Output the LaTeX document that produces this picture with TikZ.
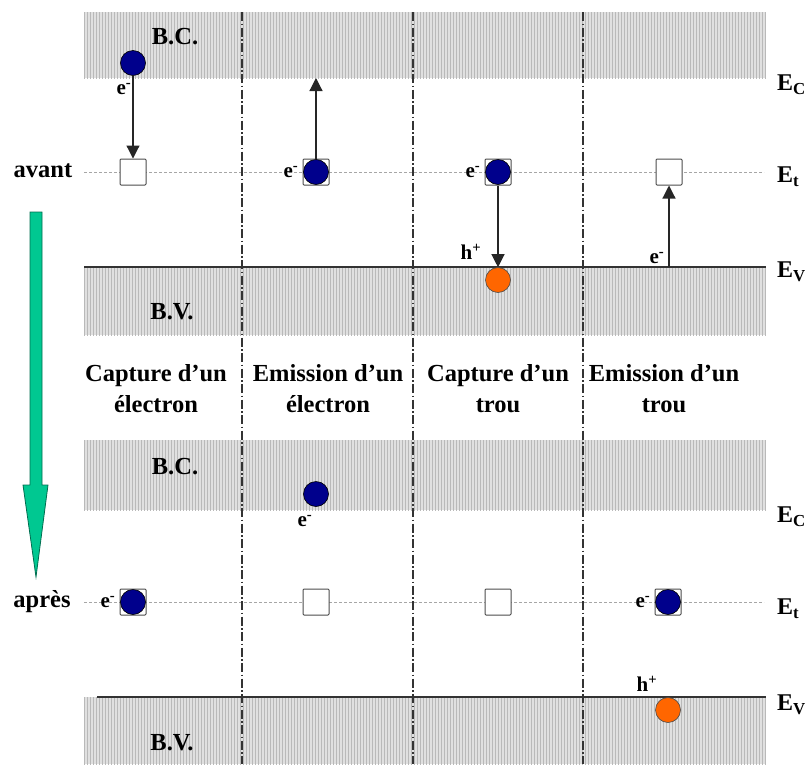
\documentclass[tikz,border=0pt]{standalone}
\usepackage{fontspec}
\setmainfont{Liberation Serif}
\usetikzlibrary{arrows.meta,patterns}
\definecolor{navyb}{RGB}{0,0,140}
\definecolor{orng}{RGB}{255,102,0}
\definecolor{teal2}{RGB}{0,200,145}
\definecolor{teal3}{RGB}{0,110,80}
\begin{document}
\begin{tikzpicture}[x=1pt,y=-1pt,
  font=\fontsize{24.5}{31}\selectfont\bfseries,
  bandfill/.style={fill=gray!24},
  bandpat/.style={pattern=vertical lines,pattern color=gray!55},
  sep/.style={draw=gray!40!black,line width=1.2pt,dash pattern=on 9pt off 2.5pt on 1.5pt off 2.5pt},
  etline/.style={draw=gray!70,line width=1pt,densely dashed},
  evline/.style={draw=gray!40!black,line width=1.6pt},
  elec/.style={circle,draw=black,line width=0.6pt,fill=navyb,minimum size=25pt,inner sep=0pt},
  hole/.style={circle,draw=black!70,line width=0.6pt,fill=orng,minimum size=25pt,inner sep=0pt},
  trap/.style={rectangle,draw=gray!60!black,line width=1pt,fill=white,minimum size=26pt,inner sep=0pt,rounded corners=1pt},
  arr/.style={draw=gray!30!black,line width=1.2pt,-{Triangle[width=13pt,length=13pt]}},
  small/.style={font=\fontsize{21}{24}\selectfont\bfseries,inner sep=1pt},
  elab/.style={font=\fontsize{24}{28}\selectfont\bfseries,anchor=west,inner sep=0pt},
  title/.style={align=center,inner sep=0pt}
]
\useasboundingbox (0,0) rectangle (809,764);

% bands
\foreach \ya/\yb in {12/78, 267/335, 440/510, 697/764}{
  \fill[bandfill] (84,\ya) rectangle (766,\yb);
  \fill[bandpat] (84,\ya) rectangle (766,\yb);
}

% energy lines
\draw[etline] (84,172) -- (764,172);
\draw[evline] (84,267) -- (766,267);
\draw[etline] (84,602) -- (764,602);
\draw[evline] (97,697) -- (766,697);

% column separators
\foreach \x in {242,413,583}{
  \draw[sep] (\x,12) -- (\x,764);
}

% band labels
\node (bc1) at (175,37) {B.C.};
\node (bv1) at (172,312) {B.V.};
\node (bc2) at (175,467) {B.C.};
\node (bv2) at (172,743) {B.V.};

% energy labels
\node[elab] (ec1) at (777,85) {E\textsubscript{C}};
\node[elab] (et1) at (777,177) {E\textsubscript{t}};
\node[elab] (ev1) at (777,272) {E\textsubscript{V}};
\node[elab] (ec2) at (777,517) {E\textsubscript{C}};
\node[elab] (et2) at (777,609) {E\textsubscript{t}};
\node[elab] (ev2) at (777,705) {E\textsubscript{V}};

% avant / apres
\node (avant) at (43,171) {avant};
\node (apres) at (42,602) {après};

% green arrow
\draw[teal3,fill=teal2,line width=0.8pt] (30,212) -- (42,212) -- (42,485) -- (48,485) -- (36,577) -- (23,485) -- (30,485) -- cycle;

% ---------- before ----------
% column 1: capture of electron
\node[elec] (c1) at (133,63) {};
\node[trap] (t1) at (133,172) {};
\node[small] (l1) at (124,89) {e\textsuperscript{-}};
\draw[arr] (c1) -- (t1);

% column 2: emission of electron
\node[trap] (t2) at (316,172) {};
\node[elec] (c2) at (316,172) {};
\node[small] (l2) at (291,172) {e\textsuperscript{-}};
\coordinate (top2) at (316,78);
\draw[arr] (t2) -- (top2);

% column 3: capture of hole
\node[trap] (t3) at (498,172) {};
\node[elec] (c3) at (498,172) {};
\node[small] (l3) at (473,172) {e\textsuperscript{-}};
\node[hole] (h3) at (498,280) {};
\node[small] (lh3) at (471,252) {h\textsuperscript{+}};
\draw[arr] (t3) -- (h3);

% column 4: emission of hole
\node[trap] (t4) at (669,172) {};
\coordinate (bot4) at (669,267);
\node[small] (l4) at (657,258) {e\textsuperscript{-}};
\draw[arr] (bot4) -- (t4);

% column titles
\node[title] (k1) at (156,389) {Capture d’un\\électron};
\node[title] (k2) at (328,389) {Emission d’un\\électron};
\node[title] (k3) at (498,389) {Capture d’un\\trou};
\node[title] (k4) at (664,389) {Emission d’un\\trou};

% ---------- after ----------
\node[trap] (u1) at (133,602) {};
\node[elec] (d1) at (133,602) {};
\node[small] (m1) at (108,602) {e\textsuperscript{-}};

\node[elec] (d2) at (316,494) {};
\node[small] (m2) at (305,521) {e\textsuperscript{-}};
\node[trap] (u2) at (316,602) {};

\node[trap] (u3) at (498,602) {};

\node[trap] (u4) at (668,602) {};
\node[elec] (d4) at (668,602) {};
\node[small] (m4) at (643,602) {e\textsuperscript{-}};
\node[hole] (g4) at (668,710) {};
\node[small] (mh4) at (647,684) {h\textsuperscript{+}};
\end{tikzpicture}
\end{document}
